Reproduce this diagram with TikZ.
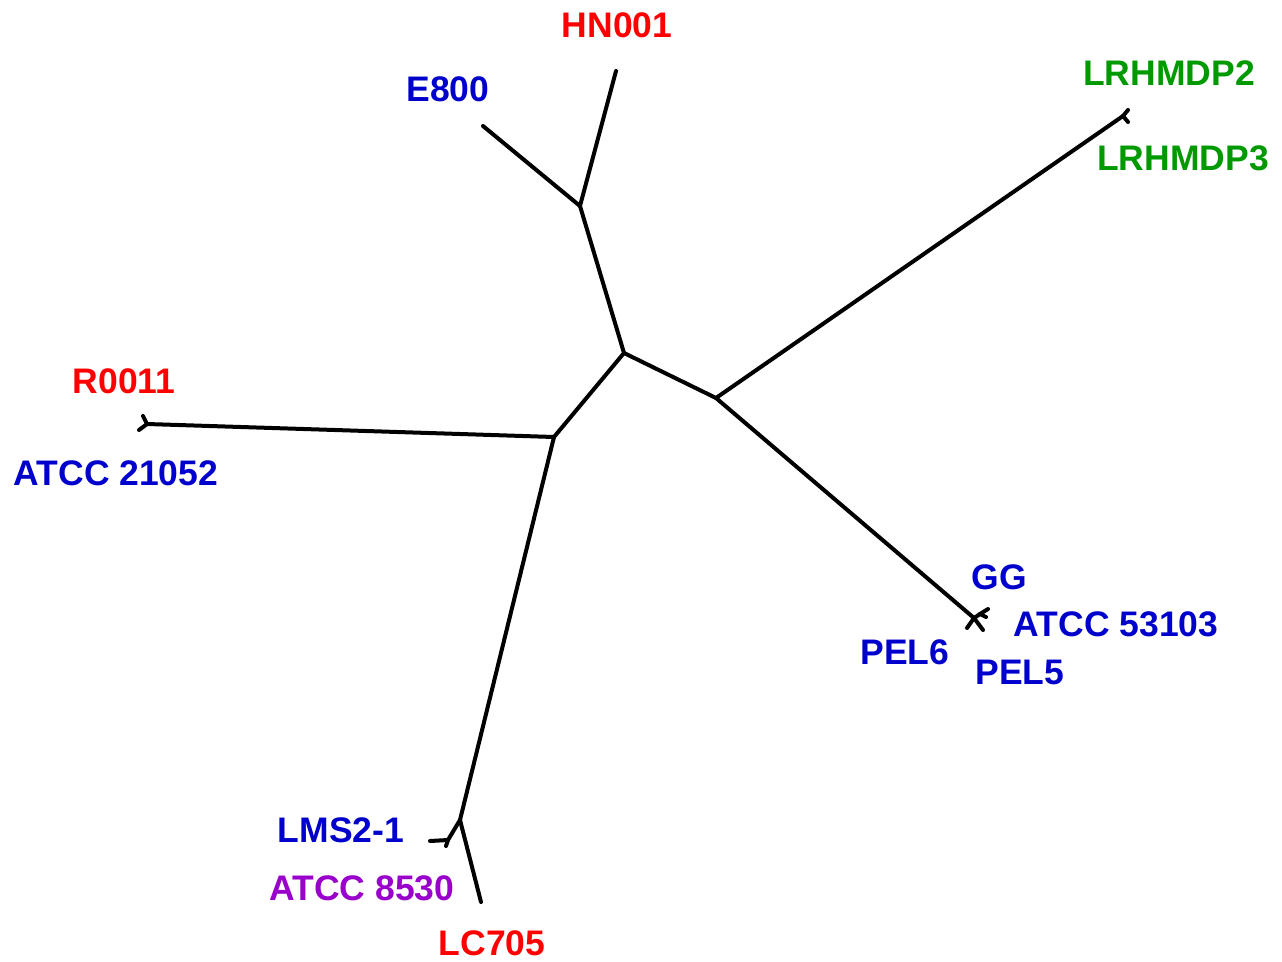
\documentclass[tikz,border=0pt]{standalone}
\usepackage{fontspec}
\setmainfont{Liberation Sans}
\usepackage{xcolor}
\definecolor{strainred}{RGB}{255,0,0}
\definecolor{strainblue}{RGB}{0,0,204}
\definecolor{straingreen}{RGB}{0,153,0}
\definecolor{strainpurple}{RGB}{153,0,204}
\usetikzlibrary{positioning}

\tikzset{
  branch/.style={draw=black, line width=4pt, line cap=round, line join=round},
  strain/.style={inner sep=0pt, font=\fontsize{35.5}{40}\selectfont\bfseries}
}

\begin{document}
\begin{tikzpicture}[x=1pt, y=-1pt]
\useasboundingbox (0,0) rectangle (1282,961);

% inner nodes of the tree
\coordinate (root) at (624,353);
\coordinate (top) at (580,206);
\coordinate (right) at (716,398);
\coordinate (left) at (554,437);
\coordinate (lrhm) at (1123,116);
\coordinate (lgg) at (974,618);
\coordinate (lggup) at (980,614);
\coordinate (rleft) at (147,424);
\coordinate (lms) at (460,820);
\coordinate (lmsleft) at (448,840);

% leaves
\coordinate (hn001) at (616,71);
\coordinate (e800) at (483,126);
\coordinate (lrhmdp2) at (1128,110);
\coordinate (lrhmdp3) at (1128,122);
\coordinate (gg) at (988,609);
\coordinate (atcc53103) at (986,617);
\coordinate (pel6) at (967,628);
\coordinate (pel5) at (983,630);
\coordinate (r0011) at (143,416);
\coordinate (atcc21052) at (139,430);
\coordinate (lms21) at (430,841);
\coordinate (atcc8530) at (446,846);
\coordinate (lc705) at (481,902);

\draw[branch] (root) -- (top);
\draw[branch] (root) -- (right);
\draw[branch] (root) -- (left);
\draw[branch] (top) -- (hn001);
\draw[branch] (top) -- (e800);
\draw[branch] (right) -- (lrhm);
\draw[branch] (lrhm) -- (lrhmdp2);
\draw[branch] (lrhm) -- (lrhmdp3);
\draw[branch] (right) -- (lgg);
\draw[branch] (lgg) -- (lggup);
\draw[branch] (lggup) -- (gg);
\draw[branch] (lggup) -- (atcc53103);
\draw[branch] (lgg) -- (pel6);
\draw[branch] (lgg) -- (pel5);
\draw[branch] (left) -- (rleft);
\draw[branch] (rleft) -- (r0011);
\draw[branch] (rleft) -- (atcc21052);
\draw[branch] (left) -- (lms);
\draw[branch] (lms) -- (lc705);
\draw[branch] (lms) -- (lmsleft);
\draw[branch] (lmsleft) -- (lms21);
\draw[branch] (lmsleft) -- (atcc8530);

% strain names
\node (hn001lab) [strain, text=strainred] at (617,25) {HN001};
\node (e800lab) [strain, text=strainblue] at (448,89) {E800};
\node (lrhmdp2lab) [strain, text=straingreen] at (1169,73) {LRHMDP2};
\node (lrhmdp3lab) [strain, text=straingreen] at (1183,158) {LRHMDP3};
\node (r0011lab) [strain, text=strainred] at (124,381) {R0011};
\node (atcc21052lab) [strain, text=strainblue] at (116,473) {ATCC 21052};
\node (gglab) [strain, text=strainblue] at (999,577) {GG};
\node (atcc53103lab) [strain, text=strainblue] at (1116,624) {ATCC 53103};
\node (pel6lab) [strain, text=strainblue] at (905,652) {PEL6};
\node (pel5lab) [strain, text=strainblue] at (1020,672) {PEL5};
\node (lms21lab) [strain, text=strainblue] at (341,830) {LMS2-1};
\node (atcc8530lab) [strain, text=strainpurple] at (362,888) {ATCC 8530};
\node (lc705lab) [strain, text=strainred] at (492,943) {LC705};
\end{tikzpicture}
\end{document}
